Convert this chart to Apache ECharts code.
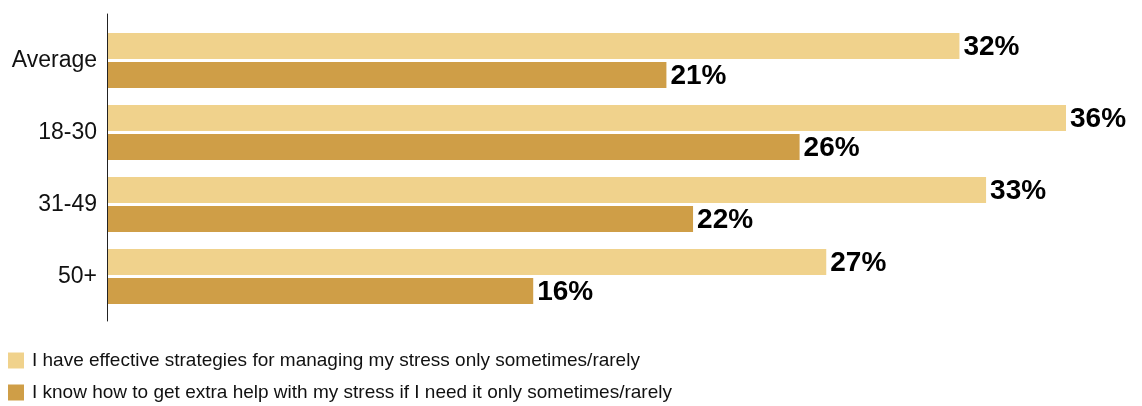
<!DOCTYPE html>
<html>
<head>
<meta charset="utf-8">
<script src="https://cdn.jsdelivr.net/npm/echarts@6/dist/echarts.min.js"></script>
<style>
html,body{margin:0;padding:0;background:#fff;}
#chart{width:1142px;height:406px;}
</style>
</head>
<body>
<div id="chart"></div>
<script>
const categories = ['Average', '18-30', '31-49', '50+'];
const seriesNames = [
  'I have effective strategies for managing my stress only sometimes/rarely',
  'I know how to get extra help with my stress if I need it only sometimes/rarely'
];
const strategiesValues = [32, 36, 33, 27];
const extraHelpValues = [21, 26, 22, 16];
const colors = ['#F0D28C', '#CF9E47'];

const FONT = "'Liberation Sans', Arial, Helvetica, sans-serif";
const chart = echarts.init(document.getElementById('chart'));

const labelStyle = {
  show: true,
  position: 'right',
  distance: 4,
  formatter: '{c}%',
  fontFamily: FONT,
  fontSize: 28,
  fontWeight: 'bold',
  color: '#000',
  offset: [0, 1]
};

chart.setOption({
  animation: false,
  backgroundColor: '#fff',
  legend: {
    orient: 'vertical',
    left: 8,
    top: 351,
    height: 60,
    padding: 0,
    itemWidth: 16,
    itemHeight: 16,
    itemGap: 13,
    icon: 'rect',
    textStyle: { fontFamily: FONT, fontSize: 19, lineHeight: 16, color: '#111', padding: [0,0,0,3] },
    data: seriesNames
  },
  grid: [
    { left: 107, right: 76, top: 24.5, height: 288, containLabel: false },
    { left: 107, right: 76, top: 14, height: 307, containLabel: false }
  ],
  xAxis: [
    { type: 'value', gridIndex: 0, min: 0, max: 36, show: false },
    { type: 'value', gridIndex: 1, min: 0, max: 36, show: false }
  ],
  yAxis: [
    {
      type: 'category', gridIndex: 0, data: categories, inverse: true,
      axisLine: { show: false }, axisTick: { show: false },
      axisLabel: { fontFamily: FONT, fontSize: 23, color: '#111', margin: 10 }
    },
    {
      type: 'value', gridIndex: 1, min: 0, max: 1, z: 10,
      axisLine: { show: true, lineStyle: { color: '#222', width: 1 } },
      axisTick: { show: false }, axisLabel: { show: false }, splitLine: { show: false }
    }
  ],
  series: [
    {
      name: seriesNames[0], type: 'bar', xAxisIndex: 0, yAxisIndex: 0,
      data: strategiesValues, barWidth: 26, barGap: '11.5%',
      itemStyle: { color: colors[0] }, label: labelStyle
    },
    {
      name: seriesNames[1], type: 'bar', xAxisIndex: 0, yAxisIndex: 0,
      data: extraHelpValues, barWidth: 26, barGap: '11.5%',
      itemStyle: { color: colors[1] }, label: labelStyle
    }
  ]
});
</script>
</body>
</html>
